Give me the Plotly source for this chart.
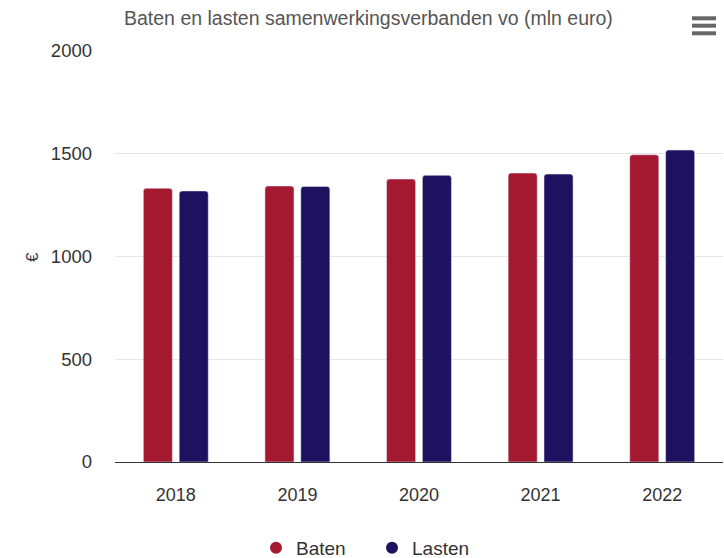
import plotly.graph_objects as go

years = ["2018", "2019", "2020", "2021", "2022"]
baten = [1332, 1343, 1377, 1406, 1495]
lasten = [1319, 1341, 1395, 1401, 1518]

c_baten = "#A51930"
c_lasten = "#1E1160"
font = "Liberation Sans, Arial, Helvetica, sans-serif"

# pixel -> paper helpers (plot area: x 115..723, y 51..462)
def px(x):
    return (x - 115) / 608

def py(y):
    return (462 - y) / 411

fig = go.Figure()
fig.add_bar(x=years, y=baten, name="Baten", marker_color=c_baten, showlegend=False)
fig.add_bar(x=years, y=lasten, name="Lasten", marker_color=c_lasten, showlegend=False)
# legend entries with circle symbols
fig.add_scatter(x=[None], y=[None], mode="markers", name="Baten",
                marker=dict(symbol="circle", size=15, color=c_baten))
fig.add_scatter(x=[None], y=[None], mode="markers", name="Lasten",
                marker=dict(symbol="circle", size=15, color=c_lasten))

fig.update_layout(
    width=724, height=558,
    margin=dict(l=115, r=1, t=51, b=96, autoexpand=False),
    paper_bgcolor="white", plot_bgcolor="white",
    font=dict(family=font, size=18, color="#333333"),
    barmode="group", bargap=0.41, bargroupgap=0.19, barcornerradius=3,
    showlegend=True,
    legend=dict(orientation="h", x=px(256), xanchor="left", y=py(548), yanchor="middle",
                font=dict(size=19, color="#333333"), itemsizing="constant", entrywidth=71),
    xaxis=dict(showgrid=False, showline=True, linecolor="#333333", linewidth=1,
               ticks="", ticklabelstandoff=16, tickfont=dict(size=18, color="#333333"),
               fixedrange=True),
    yaxis=dict(range=[0, 2000], tickvals=[0, 500, 1000, 1500, 2000],
               showgrid=True, gridcolor="#e6e6e6", gridwidth=1, zeroline=False,
               ticks="", ticklabelstandoff=22, tickfont=dict(size=18.5, color="#333333"),
               fixedrange=True),
    annotations=[
        dict(text="Baten en lasten samenwerkingsverbanden vo (mln euro)", xref="paper", yref="paper",
             x=px(368), y=py(18), xanchor="center", yanchor="middle",
             showarrow=False, font=dict(size=19.5, color="#555555", family=font)),
        dict(text="€", xref="paper", yref="paper", x=px(32), y=py(257),
             xanchor="center", yanchor="middle", textangle=-90, showarrow=False,
             font=dict(size=17, color="#333333", family=font)),
    ],
    shapes=[
        dict(type="line", xref="paper", yref="paper",
             x0=px(692), x1=px(716), y0=py(yy), y1=py(yy),
             line=dict(color="#666666", width=4))
        for yy in (18.3, 25.7, 33.3)
    ],
)

fig.write_html(
    "out.html",
    config={"displayModeBar": False},
    post_script="document.body.style.margin='0';document.body.style.overflow='hidden';",
)
